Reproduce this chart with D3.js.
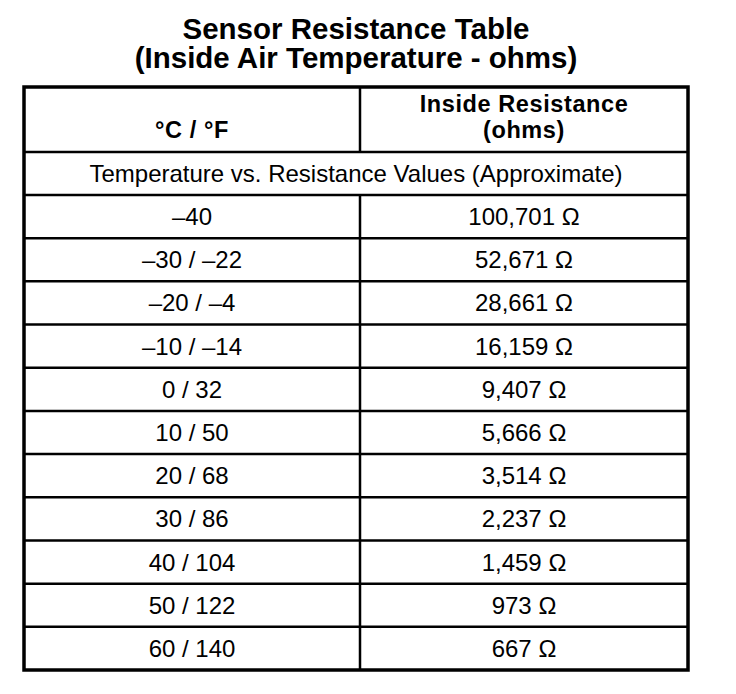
<!DOCTYPE html>
<html>
<head>
<meta charset="utf-8">
<style>
  body { margin: 0; background: #fff; }
  svg { display: block; }
  text { font-family: "Liberation Sans", Arial, Helvetica, sans-serif; fill: #000; }
</style>
</head>
<body>
<svg id="table"></svg>
<script src="https://d3js.org/d3.v7.min.js"></script>
<script>
// table contents
var titleLines = ["Sensor Resistance Table", "(Inside Air Temperature - ohms)"];
var headLeft = ["°C / °F"];
var headRight = ["Inside Resistance", "(ohms)"];
var subHead = "Temperature vs. Resistance Values (Approximate)";
var tempLabels = ["–40", "–30 / –22", "–20 / –4", "–10 / –14", "0 / 32", "10 / 50",
                  "20 / 68", "30 / 86", "40 / 104", "50 / 122", "60 / 140"];
var resistance = [100701, 52671, 28661, 16159, 9407, 5666, 3514, 2237, 1459, 973, 667];

var width = 736, height = 694;
var svg = d3.select("#table").attr("width", width).attr("height", height);

var xLeft = 24, xMid = 360, xRight = 688;
var yTop = 87, headBottom = 152, subBottom = 195, yBottom = 670;

// column scale : 0 = °C/°F, 1 = resistance
var xCol = d3.scaleOrdinal().domain([0, 1]).range([(xLeft + xMid) / 2, (xMid + xRight) / 2]);
// row scale for the data rows
var yRow = d3.scaleBand().domain(d3.range(tempLabels.length)).range([subBottom, yBottom]);
var fmt = d3.format(",");

// title
svg.append("g").selectAll("text")
  .data(titleLines)
  .join("text")
  .attr("x", (xLeft + xRight) / 2)
  .attr("y", function(d, i){ return 39 + i * 29; })
  .attr("text-anchor", "middle")
  .attr("font-size", 29.5)
  .attr("font-weight", "bold")
  .text(function(d){ return d; });

// header cells
svg.append("text")
  .attr("x", xCol(0)).attr("y", 138)
  .attr("text-anchor", "middle")
  .attr("font-size", 23.5).attr("font-weight", "bold")
  .attr("letter-spacing", 0.6)
  .text(headLeft[0]);

svg.append("g").selectAll("text")
  .data(headRight)
  .join("text")
  .attr("x", xCol(1))
  .attr("y", function(d, i){ return 112 + i * 26; })
  .attr("text-anchor", "middle")
  .attr("font-size", 23.5).attr("font-weight", "bold")
  .attr("letter-spacing", 0.6)
  .text(function(d){ return d; });

svg.append("text")
  .attr("x", (xLeft + xRight) / 2).attr("y", 182)
  .attr("text-anchor", "middle")
  .attr("font-size", 24)
  .text(subHead);

// data rows
var rows = svg.append("g").selectAll("g")
  .data(d3.range(tempLabels.length))
  .join("g")
  .attr("transform", function(i){ return "translate(0," + (yRow(i) + yRow.bandwidth() / 2) + ")"; });

rows.append("text")
  .attr("x", xCol(0)).attr("y", 8.5)
  .attr("text-anchor", "middle").attr("font-size", 24)
  .text(function(i){ return tempLabels[i]; });

rows.append("text")
  .attr("x", xCol(1)).attr("y", 8.5)
  .attr("text-anchor", "middle").attr("font-size", 24)
  .text(function(i){ return fmt(resistance[i]) + " Ω"; });

// grid lines
var grid = svg.append("g").attr("stroke", "#000").attr("fill", "none");

var hLines = [headBottom, subBottom].concat(d3.range(1, tempLabels.length).map(function(i){ return yRow(i); }));
grid.selectAll("line.h")
  .data(hLines)
  .join("line")
  .attr("class", "h")
  .attr("x1", xLeft).attr("x2", xRight)
  .attr("y1", function(d){ return d; }).attr("y2", function(d){ return d; })
  .attr("stroke-width", 2.5);

// vertical divider, skipping the sub heading row
[[yTop, headBottom], [subBottom, yBottom]].forEach(function(s){
  grid.append("line")
    .attr("x1", xMid).attr("x2", xMid)
    .attr("y1", s[0]).attr("y2", s[1])
    .attr("stroke-width", 2.5);
});

// outer border
grid.append("rect")
  .attr("x", xLeft).attr("y", yTop)
  .attr("width", xRight - xLeft).attr("height", yBottom - yTop)
  .attr("stroke-width", 3.5);
</script>
</body>
</html>
